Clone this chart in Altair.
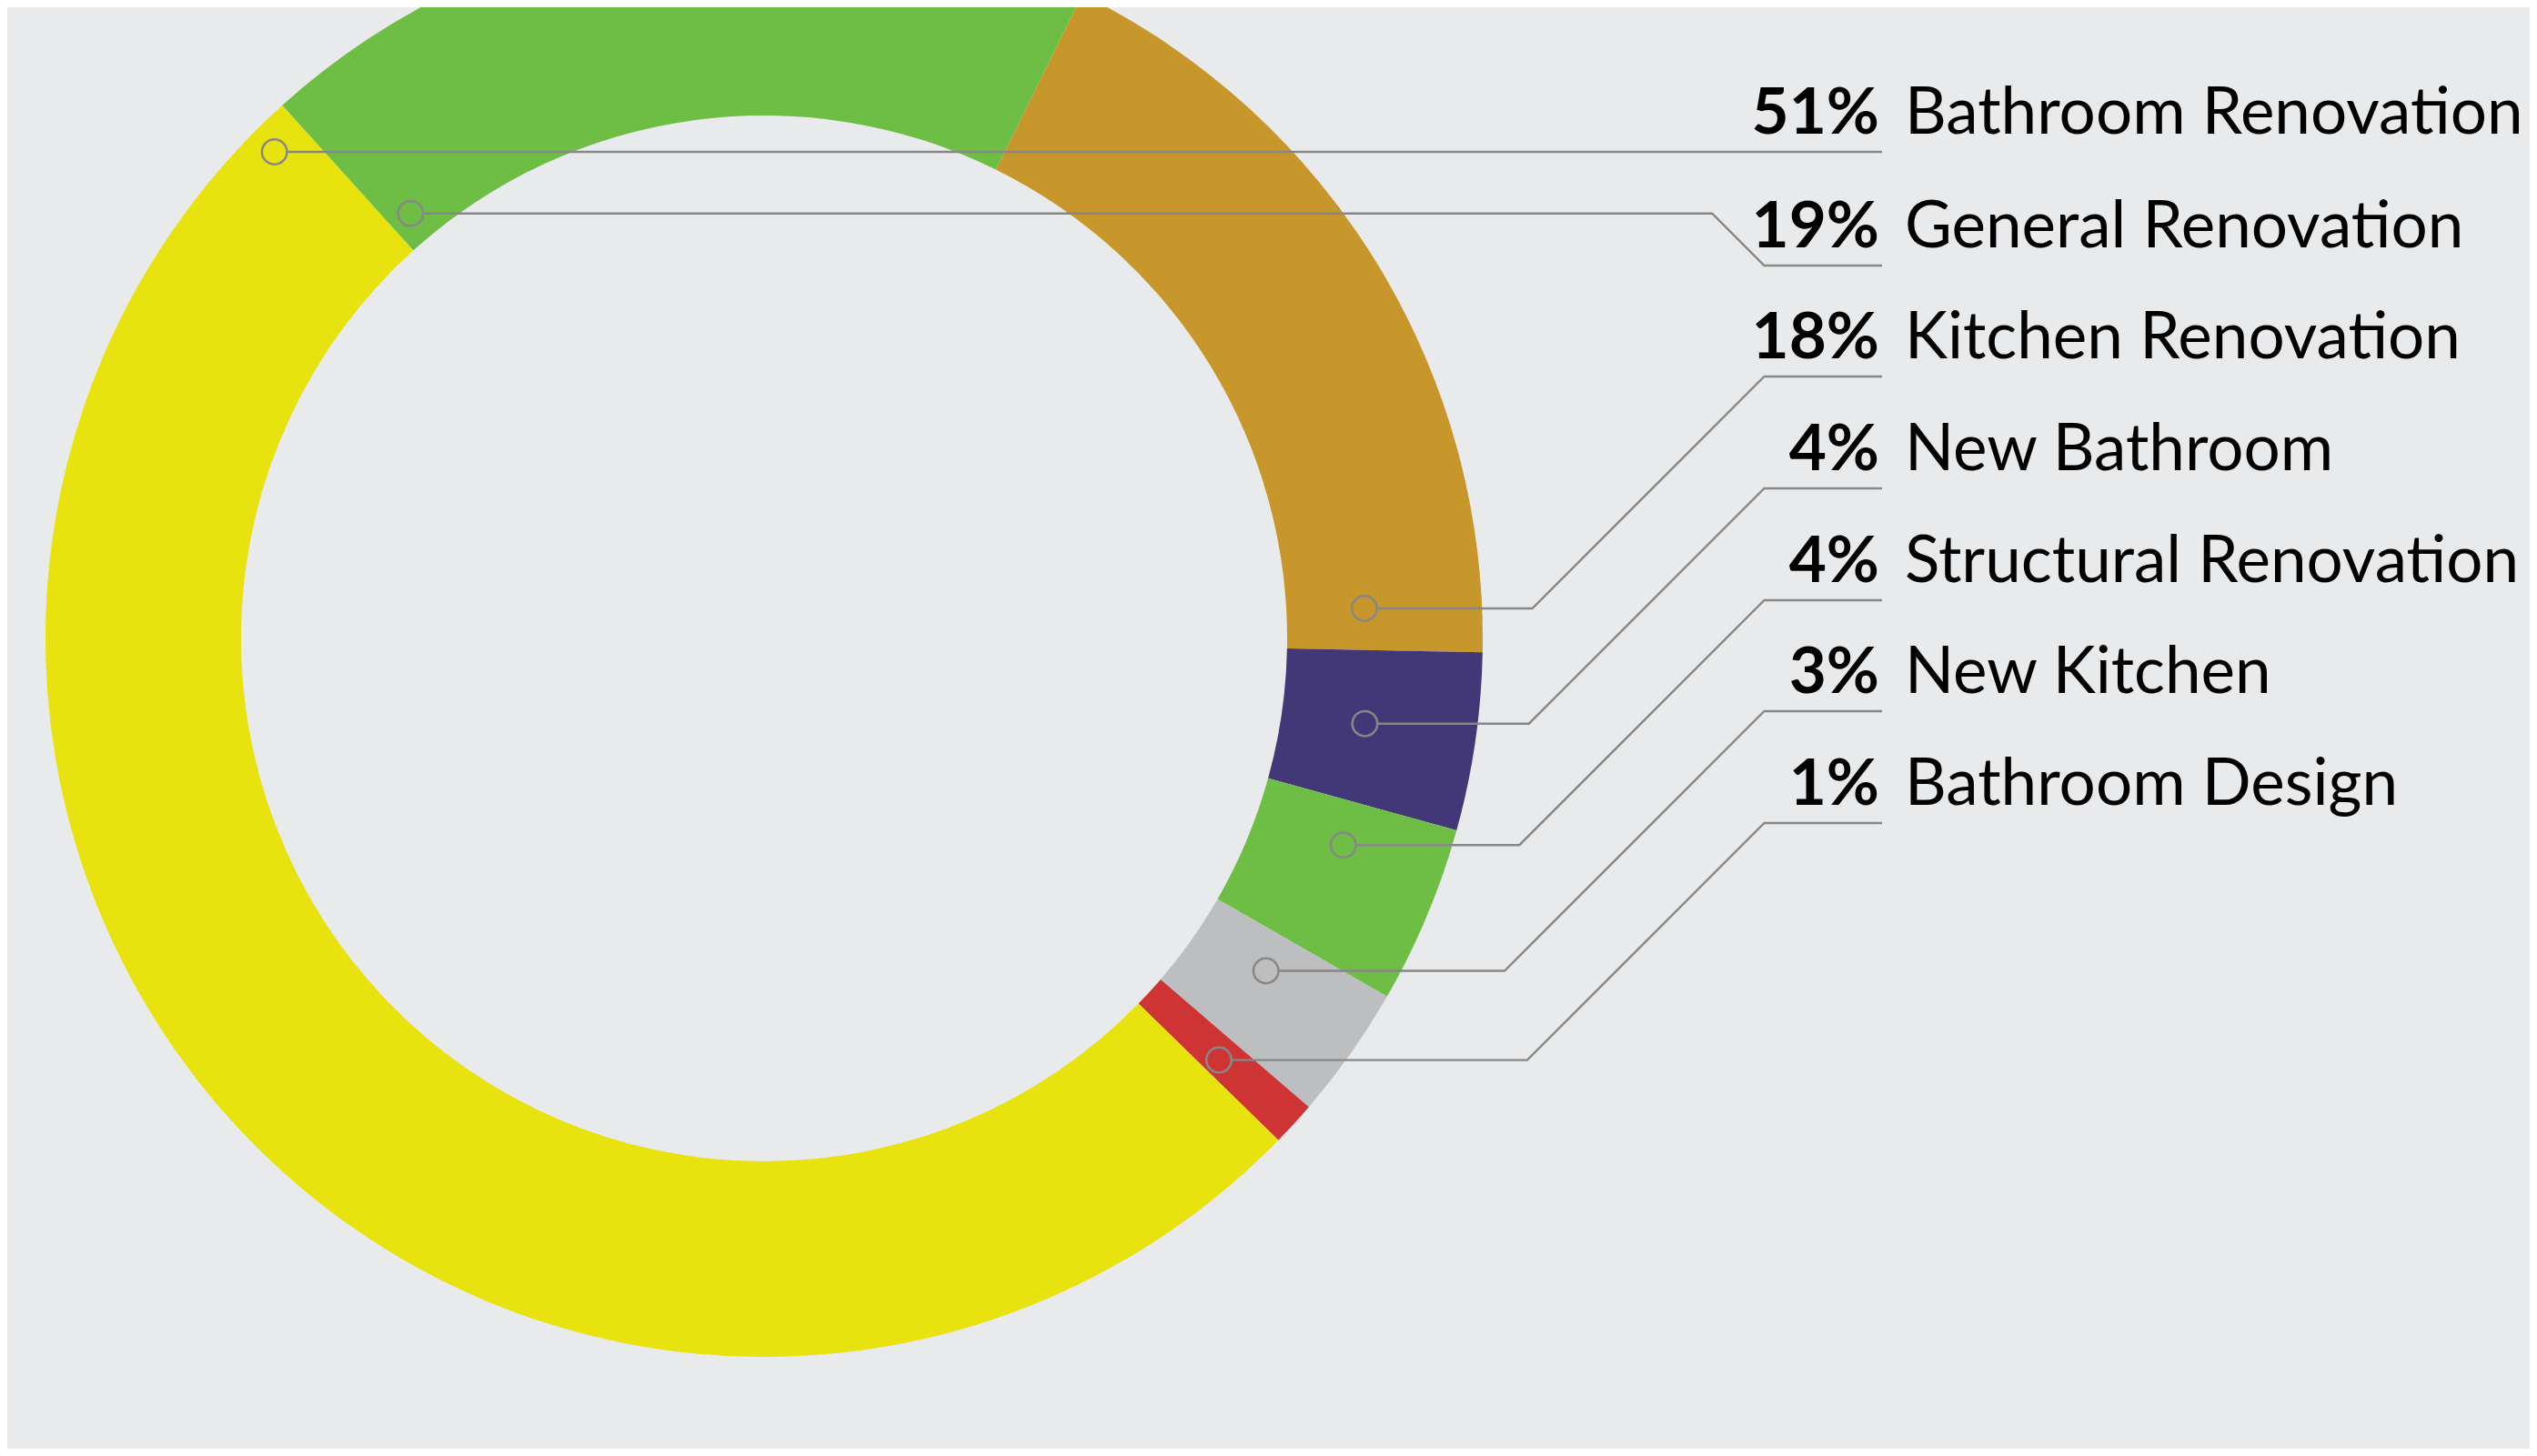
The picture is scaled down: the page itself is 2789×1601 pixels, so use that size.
import math
import altair as alt
import pandas as pd

# ---------------- data ----------------
categories = ["Kitchen Renovation", "New Bathroom", "Structural Renovation",
              "New Kitchen", "Bathroom Design", "Bathroom Renovation",
              "General Renovation"]
shares = [18, 4, 4, 3, 1, 51, 19]
seg_colors = ["#C8972C", "#433877", "#6EBE45", "#BDBEC0", "#CF3434",
              "#E8E30F", "#6EBE45"]

label_names = ["Bathroom Renovation", "General Renovation", "Kitchen Renovation",
               "New Bathroom", "Structural Renovation", "New Kitchen",
               "Bathroom Design"]
label_pcts = ["51%", "19%", "18%", "4%", "4%", "3%", "1%"]

# ---------------- layout (pixels of the picture) ----------------
OFF = 8                      # page margin
W, H = 2773, 1585
CX, CY = 840 - OFF, 702 - OFF
R_OUT, R_IN = 790, 575
START = math.radians(26.3)

dot_x = [301.7, 451.3, 1500.0, 1500.4, 1476.7, 1391.7, 1340.0]
dot_y = [167.0, 234.7, 669.0, 795.7, 929.2, 1067.5, 1165.6]
under_y = [167, 292, 414, 537, 660, 782, 905]
UL_X0, UL_X1 = 1939.5, 2069
DOT_R = 14.5
PCT_X, NAME_X = 2066, 2094
BASE_GAP = 20
FS = 71

LINE_COL = "#878787"
BG = "#E9EAEC"

# ---------------- tables ----------------
arc_df = pd.DataFrame({"cat": categories, "share": shares,
                       "idx": list(range(len(categories)))})

rows = []
for i, name in enumerate(label_names):
    elbow = UL_X0 - abs(dot_y[i] - under_y[i])
    pts = [(dot_x[i] + DOT_R, dot_y[i]), (elbow, dot_y[i]),
           (UL_X0, under_y[i]), (UL_X1, under_y[i])]
    for k, (px, py) in enumerate(pts):
        rows.append({"lead": name, "k": k, "x": px - OFF, "y": py - OFF})
line_df = pd.DataFrame(rows)

dot_df = pd.DataFrame({"lead": label_names,
                       "x": [v - OFF for v in dot_x],
                       "y": [v - OFF for v in dot_y]})

text_df = pd.DataFrame({"name": label_names, "pct": label_pcts,
                        "px": [PCT_X - OFF] * 7,
                        "nx": [NAME_X - OFF] * 7,
                        "y": [u - BASE_GAP - OFF for u in under_y]})

xs = alt.Scale(domain=[0, W], nice=False, zero=False)
ys = alt.Scale(domain=[0, H], nice=False, zero=False, reverse=True)

arcs = alt.Chart(arc_df).mark_arc(radius=R_OUT, radius2=R_IN, clip=True).encode(
    theta=alt.Theta("share:Q", stack=True,
                    scale=alt.Scale(domain=[0, 100], range=[START, START + 2 * math.pi])),
    order=alt.Order("idx:Q"),
    color=alt.Color("cat:N", scale=alt.Scale(domain=categories, range=seg_colors),
                    legend=None),
    x=alt.value(CX),
    y=alt.value(CY),
)

lines = alt.Chart(line_df).mark_line(color=LINE_COL, strokeWidth=2.4,
                                     strokeJoin="miter").encode(
    x=alt.X("x:Q", scale=xs, axis=None),
    y=alt.Y("y:Q", scale=ys, axis=None),
    detail="lead:N",
    order="k:Q",
)

dots = alt.Chart(dot_df).mark_point(shape="circle", filled=False, size=27.5 ** 2,
                                    strokeWidth=2.5, color=LINE_COL, opacity=1).encode(
    x=alt.X("x:Q", scale=xs, axis=None),
    y=alt.Y("y:Q", scale=ys, axis=None),
)

pcts = alt.Chart(text_df).mark_text(font="Lato", fontWeight="bold", fontSize=FS,
                                    align="right", baseline="alphabetic",
                                    color="#000000").encode(
    x=alt.X("px:Q", scale=xs, axis=None),
    y=alt.Y("y:Q", scale=ys, axis=None),
    text="pct:N",
)

names = alt.Chart(text_df).mark_text(font="Lato", fontSize=FS,
                                     align="left", baseline="alphabetic",
                                     color="#000000").encode(
    x=alt.X("nx:Q", scale=xs, axis=None),
    y=alt.Y("y:Q", scale=ys, axis=None),
    text="name:N",
)

chart = alt.layer(arcs, lines, dots, pcts, names).properties(
    width=W, height=H,
    autosize=alt.AutoSizeParams(type="none"),
    padding=0,
    background=BG,
).configure_view(strokeWidth=0)

chart.save("out.html", embed_options={"renderer": "svg", "actions": False})
